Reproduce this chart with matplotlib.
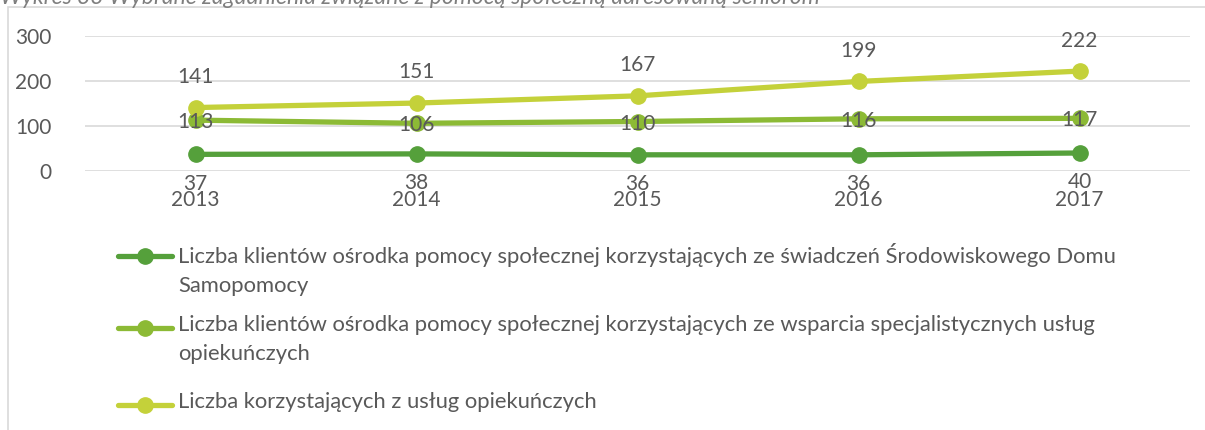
import matplotlib
matplotlib.use("Agg")
import matplotlib.pyplot as plt
from matplotlib.patches import Rectangle
from matplotlib.lines import Line2D

plt.rcParams['font.family'] = ['Lato', 'DejaVu Sans']

years = ['2013', '2014', '2015', '2016', '2017']
sds = [37, 38, 36, 36, 40]
specjalistyczne = [113, 106, 110, 116, 117]
opiekuncze = [141, 151, 167, 199, 222]

labels = [
    'Liczba klientów ośrodka pomocy społecznej korzystających ze świadczeń Środowiskowego Domu\nSamopomocy',
    'Liczba klientów ośrodka pomocy społecznej korzystających ze wsparcia specjalistycznych usług\nopiekuńczych',
    'Liczba korzystających z usług opiekuńczych',
]
colors = ['#55A03B', '#8CBA35', '#C4D13A']
txt = '#595959'

W, H = 1205, 430
fig = plt.figure(figsize=(W / 100, H / 100), dpi=100)

# chart frame and clipped caption above it
fig.patches.append(Rectangle((8 / W, -0.1), 1.2, 1 - 7 / H + 0.1, transform=fig.transFigure,
                             fill=False, edgecolor='#D9D9D9', linewidth=1.2))
fig.text(0.0, 1 + 2 / H, 'Wykres 33 Wybrane zagadnienia związane z pomocą społeczną adresowaną seniorom',
         ha='left', va='center', fontsize=16.5, style='italic', color='#7F7F7F')

ax = fig.add_axes([85 / W, 1 - 171 / H, (1190 - 85) / W, (171 - 36) / H])
x = range(len(years))
series = [sds, specjalistyczne, opiekuncze]
offsets = [-21, -1.5, 22]
for vals, col, lab, off in zip(series, colors, labels, offsets):
    ax.plot(x, vals, color=col, lw=3.8, marker='o', ms=11, label=lab, solid_capstyle='round')
    for xi, v in zip(x, vals):
        ax.annotate(str(v), (xi, v), xytext=(0, off), textcoords='offset points',
                    ha='center', va='center', fontsize=15, color=txt)

ax.set_xlim(-0.5, len(years) - 0.5)
ax.set_ylim(0, 300)
ax.set_yticks([0, 100, 200, 300])
ax.set_xticks(list(x))
ax.set_xticklabels(years)
ax.yaxis.grid(True, color='#D9D9D9', lw=1.2)
ax.set_axisbelow(True)
for s in ax.spines.values():
    s.set_visible(False)
ax.tick_params(axis='both', length=0, labelsize=15, labelcolor=txt)
ax.tick_params(axis='y', pad=24)
ax.tick_params(axis='x', pad=14)

# legend entries: handle sits on the first text line
entry_y = [256, 328, 405]
for col, lab, yy in zip(colors, labels, entry_y):
    fy = 1 - yy / H
    fig.add_artist(Line2D([118 / W, 172 / W], [fy, fy], transform=fig.transFigure,
                          color=col, lw=3.8, solid_capstyle='round'))
    fig.add_artist(Line2D([145 / W], [fy], transform=fig.transFigure,
                          color=col, marker='o', ms=11, lw=0))
    fig.text(178 / W, 1 - (yy - 13) / H, lab, ha='left', va='top', fontsize=15.8,
             color=txt, linespacing=1.55)

fig.savefig('out.png', dpi=100)
